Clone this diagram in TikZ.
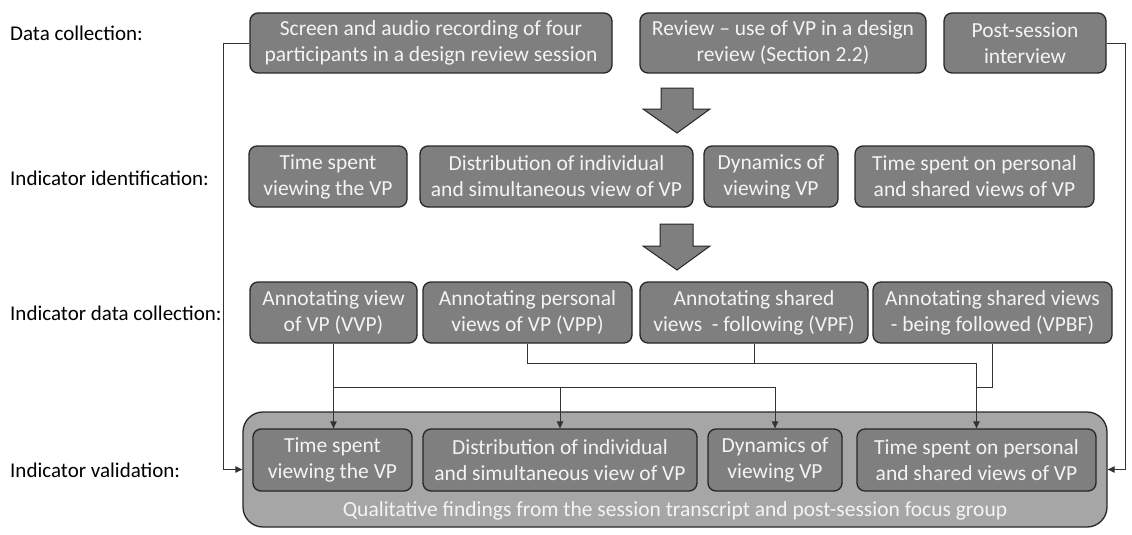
\documentclass[tikz,border=0pt]{standalone}
\usepackage{fontspec}
\setmainfont{Carlito}
\usetikzlibrary{arrows.meta}
\definecolor{boxfill}{HTML}{7F7F7F}
\definecolor{outerfill}{HTML}{A6A6A6}
\definecolor{boxline}{HTML}{262626}
\definecolor{txtw}{HTML}{F4F4F4}
\tikzset{
  bx/.style={draw=boxline, fill=boxfill, rounded corners=8pt, line width=1.3pt,
    text=txtw, align=center, inner sep=0pt,
    font=\fontsize{21.5}{26}\selectfont},
  outerbox/.style={draw=boxline, fill=outerfill, rounded corners=20pt, line width=1.3pt, inner sep=0pt},
  lbl/.style={anchor=west, inner sep=0pt, text=black, font=\fontsize{21}{25.5}\selectfont},
  conn/.style={draw=black!80, line width=0.9pt},
  tip/.style={-{Triangle[length=7pt,width=6.5pt]}},
  bigarrow/.style={draw=boxline, fill=boxfill, line width=1pt, line join=miter}
}
\begin{document}
\begin{tikzpicture}[x=1pt,y=-1pt]
\useasboundingbox (0,0) rectangle (1132,535);

% labels
\node[lbl] (l1) at (10,33) {Data collection:};
\node[lbl] (l2) at (10,178) {Indicator identification:};
\node[lbl] (l3) at (10,313) {Indicator data collection:};
\node[lbl] (l4) at (10,470) {Indicator validation:};

% row 1
\node[bx, minimum width=362pt, minimum height=60pt] (A) at (431,43) {Screen and audio recording of four\\participants in a design review session};
\node[bx, minimum width=286pt, minimum height=60pt] (B) at (783,43) {Review – use of VP in a design\\review (Section 2.2)};
\node[bx, minimum width=162pt, minimum height=60pt] (C) at (1025,43) {Post-session\\interview};

% big arrows
\draw[bigarrow] (661,88) -- (693,88) -- (693,109) -- (710,109) -- (677,133) -- (643,109) -- (661,109) -- cycle;
\draw[bigarrow] (660,224) -- (693,224) -- (693,246) -- (710,246) -- (677,270) -- (643,246) -- (660,246) -- cycle;

% row 2
\node[bx, minimum width=158pt, minimum height=61pt] (D) at (328,176.5) {Time spent\\viewing the VP};
\node[bx, minimum width=273pt, minimum height=61pt] (E) at (556.5,176.5) {Distribution of individual\\and simultaneous view of VP};
\node[bx, minimum width=134pt, minimum height=61pt] (F) at (771,176.5) {Dynamics of\\viewing VP};
\node[bx, minimum width=239pt, minimum height=61pt] (G) at (974.5,176.5) {Time spent on personal\\and shared views of VP};

% row 3
\node[bx, minimum width=167pt, minimum height=61pt] (H) at (333.5,312.5) {Annotating view\\of VP (VVP)};
\node[bx, minimum width=209pt, minimum height=61pt] (I) at (527.5,312.5) {Annotating personal\\views of VP (VPP)};
\node[bx, minimum width=228pt, minimum height=61pt] (J) at (754,312.5) {Annotating shared\\views~ - following (VPF)};
\node[bx, minimum width=239pt, minimum height=61pt] (K) at (992.5,312.5) {Annotating shared views\\- being followed (VPBF)};

% row 4
\node[outerbox, minimum width=864pt, minimum height=115pt] (O) at (675,469.5) {};
\node[bx, minimum width=159pt, minimum height=62pt] (D2) at (332.5,460) {Time spent\\viewing the VP};
\node[bx, minimum width=274pt, minimum height=62pt] (E2) at (560,460) {Distribution of individual\\and simultaneous view of VP};
\node[bx, minimum width=134pt, minimum height=62pt] (F2) at (775,460) {Dynamics of\\viewing VP};
\node[bx, minimum width=239pt, minimum height=62pt] (G2) at (976.5,460) {Time spent on personal\\and shared views of VP};
\node[inner sep=0pt, text=txtw, font=\fontsize{21.5}{26}\selectfont] (Q) at (675,511) {Qualitative findings from the session transcript and post-session focus group};

% connectors
\coordinate (m1) at (0,387);
\coordinate (m2) at (0,363);
\coordinate (lft) at (223,0);
\coordinate (rgt) at (1125,0);

\draw[conn, tip] (H.south) -- (H.south |- m1) -| (F2.north);
\draw[conn, tip] (H.south |- m1) -- (H.south |- D2.north);
\draw[conn, tip] (E2.north |- m1) -- (E2.north);

\draw[conn] (I.south) |- (G2.north |- m2);
\draw[conn] (J.south) -- (J.south |- m2);
\draw[conn] (K.south) |- (G2.north |- m1);
\draw[conn, tip] (G2.north |- m2) -- (G2.north);

\draw[conn, tip] (A.west) -- (A.west -| lft) |- (O.west);
\draw[conn, tip] (C.east) -- (C.east -| rgt) |- (O.east);
\end{tikzpicture}
\end{document}
